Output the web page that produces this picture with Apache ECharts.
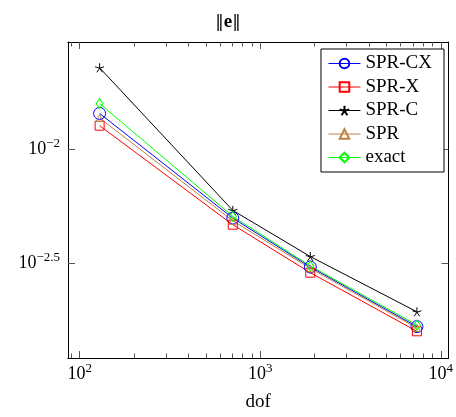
<!DOCTYPE html>
<html><head><meta charset="utf-8">
<script src="https://cdn.jsdelivr.net/npm/echarts@6/dist/echarts.min.js"></script>
<style>html,body{margin:0;padding:0;background:#fff}#c{width:456px;height:417px}</style>
</head><body><div id="c"></div>
<script>
const dof = [129, 705, 1894, 7380];
const sprCX = [0.01427, 0.004986, 0.003050, 0.001675];
const sprX = [0.01262, 0.004665, 0.002881, 0.001598];
const sprC = [0.02258, 0.005386, 0.003388, 0.001944];
const spr = [0.01363, 0.004854, 0.003008, 0.001652];
const exact = [0.01577, 0.005071, 0.003080, 0.001702];
const xMajor = [100, 1000, 10000];
const xMinor = [90, 200, 300, 400, 500, 600, 700, 800, 900, 2000, 3000, 4000, 5000, 6000, 7000, 8000, 9000];
const yMajor = [0.01, 0.0031623];
const xRange = [86.2, 11040];
const yRange = [0.001222, 0.02926];

const FF = "'Liberation Serif','DejaVu Serif',serif";
function pair(xs, ys){ return xs.map((x,i)=>[x, ys[i]]); }
function expLabel(v){
  const r = Math.round(Math.log10(v)*2)/2;
  const s = r < 0 ? '\u2212' + (-r) : String(r);
  return '{b|10}{s|' + s + '}';
}
const rich = {
  b: {fontSize: 18, lineHeight: 24, fontFamily: FF, color: '#000'},
  s: {fontSize: 13, lineHeight: 11, verticalAlign: 'top', fontFamily: FF, color: '#000'}
};
const star = 'path://M0,-1L0,0M0.951,-0.309L0,0M0.588,0.809L0,0M-0.588,0.809L0,0M-0.951,-0.309L0,0';

function xAx(pos, ticks, len, label){
  return {
    type: 'log', position: pos, min: xRange[0], max: xRange[1],
    axisLine: {show: true, onZero: false, lineStyle: {color: '#000', width: 1}},
    axisTick: {show: true, inside: true, length: len, customValues: ticks, lineStyle: {color: '#555', width: 1}},
    axisLabel: label ? {show: true, customValues: xMajor, formatter: expLabel, rich: rich, margin: 4} : {show: false},
    splitLine: {show: false}, minorTick: {show: false},
    name: label ? 'dof' : '', nameLocation: 'middle', nameGap: 35,
    nameTextStyle: {fontFamily: FF, fontSize: 19, color: '#000'}
  };
}
function yAx(pos, label){
  return {
    type: 'log', position: pos, min: yRange[0], max: yRange[1],
    axisLine: {show: true, onZero: false, lineStyle: {color: '#000', width: 1}},
    axisTick: {show: true, inside: true, length: 7, customValues: yMajor, lineStyle: {color: '#555', width: 1}},
    axisLabel: label ? {show: true, customValues: yMajor, formatter: expLabel, rich: rich, margin: 8} : {show: false},
    splitLine: {show: false}, minorTick: {show: false}
  };
}
function ser(name, ys, color, symbol, size, isStar){
  return {
    name: name, type: 'line', data: pair(dof, ys),
    symbol: symbol, symbolSize: size, showAllSymbol: true,
    lineStyle: {color: color, width: 1},
    itemStyle: isStar ? {color: color, borderColor: color, borderWidth: 1}
                      : {color: 'rgba(0,0,0,0)', borderColor: color, borderWidth: 1},
    emphasis: {disabled: true}, animation: false
  };
}
const chart = echarts.init(document.getElementById('c'), null, {renderer: 'canvas'});
chart.setOption({
  animation: false,
  backgroundColor: '#fff',
  title: {
    text: '{n|\u2016}{e|e}{n|\u2016}', left: 'center', top: 8,
    textStyle: {fontSize: 18, fontFamily: "'DejaVu Serif',serif", fontWeight: 'normal', color: '#000',
      rich: {n: {fontSize: 17, fontFamily: "'DejaVu Serif',serif", fontWeight: 'normal', color: '#000'},
             e: {fontSize: 19, fontWeight: 'bold', fontFamily: FF, color: '#000'}}}
  },
  grid: {left: 68, right: 5, top: 42, bottom: 56},
  xAxis: [xAx('bottom', xMajor, 7, true), xAx('bottom', xMinor, 4.5, false), xAx('top', xMajor, 7, false), xAx('top', xMinor, 4.5, false)],
  yAxis: [yAx('left', true), yAx('right', false)],
  legend: {
    orient: 'vertical', right: 12, top: 49,
    itemWidth: 32, itemHeight: 12, itemGap: 4.5,
    padding: [5, 12, 5, 7],
    borderColor: '#000', borderWidth: 1, backgroundColor: '#fff',
    lineStyle: {width: 1},
    textStyle: {fontFamily: FF, fontSize: 19, color: '#000'},
    data: ['SPR-CX', 'SPR-X', 'SPR-C', 'SPR', 'exact']
  },
  series: [
    ser('SPR-CX', sprCX, '#0000ff', 'circle', 12),
    ser('SPR-X', sprX, '#ff0000', 'rect', 9),
    ser('SPR-C', sprC, '#000000', star, 9, true),
    ser('SPR', spr, '#bf8040', 'triangle', 7),
    ser('exact', exact, '#00ff00', 'diamond', [7, 10])
  ]
});
</script></body></html>
